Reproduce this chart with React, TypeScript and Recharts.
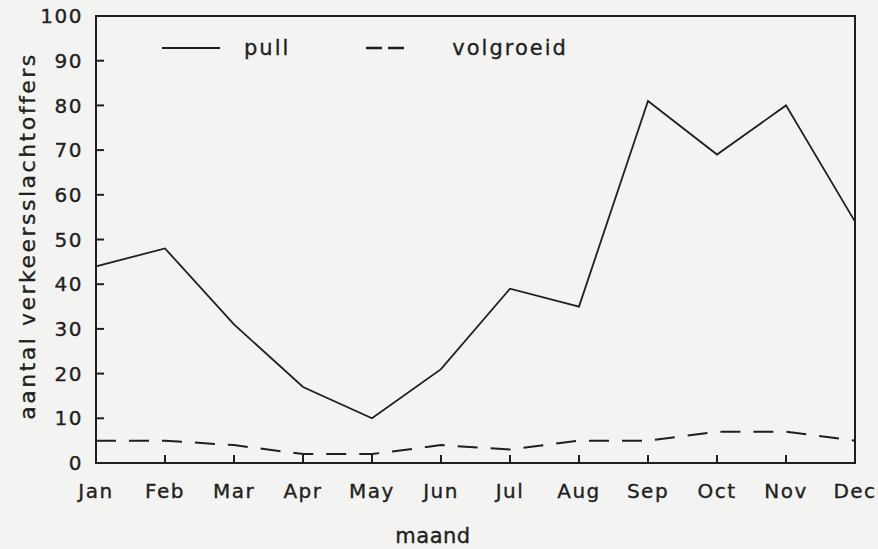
import React from "react";
import {
  LineChart,
  Line,
  XAxis,
  YAxis,
  ReferenceArea,
  Legend,
  Label,
} from "recharts";

const months = ["Jan", "Feb", "Mar", "Apr", "May", "Jun", "Jul", "Aug", "Sep", "Oct", "Nov", "Dec"];
const pull = [44, 48, 31, 17, 10, 21, 39, 35, 81, 69, 80, 54];
const volgroeid = [5, 5, 4, 2, 2, 4, 3, 5, 5, 7, 7, 5];
const yTicks = [0, 10, 20, 30, 40, 50, 60, 70, 80, 90, 100];

const data = months.map((m, i) => ({ month: m, pull: pull[i], volgroeid: volgroeid[i] }));

const INK = "#1f1f1f";
const FONT = "'DejaVu Sans', sans-serif";

const tickStyle = { fill: INK, stroke: INK, strokeWidth: 0.35, fontSize: 20, fontFamily: FONT, letterSpacing: 1.5 };

const LegendBox = () => (
  <div
    style={{
      display: "flex",
      alignItems: "center",
      fontFamily: FONT,
      fontSize: 21,
      letterSpacing: 2,
      color: INK,
      WebkitTextStroke: "0.35px " + INK,
    }}
  >
    <svg width={58} height={6}>
      <line x1={0} y1={3} x2={58} y2={3} stroke={INK} strokeWidth={2} />
    </svg>
    <span style={{ marginLeft: 24 }}>pull</span>
    <svg width={38} height={6} style={{ marginLeft: 76 }}>
      <line x1={0} y1={3} x2={38} y2={3} stroke={INK} strokeWidth={2.5} strokeDasharray="16 6" />
    </svg>
    <span style={{ marginLeft: 48 }}>volgroeid</span>
  </div>
);

export default function App() {
  return (
    <div style={{ position: "absolute", top: 0, left: 0, width: 878, height: 549, background: "#f3f3f1" }}>
      <LineChart width={878} height={549} data={data} margin={{ top: 16, right: 23, left: 0, bottom: 0 }}>
        <XAxis
          dataKey="month"
          interval={0}
          height={86}
          tickSize={-8}
          tickMargin={29}
          tick={tickStyle}
          stroke={INK}
          strokeWidth={2}
        >
          <Label
            content={() => (
              <text
                x={433}
                y={543}
                textAnchor="middle"
                fill={INK}
                stroke={INK}
                strokeWidth={0.35}
                fontSize={21}
                fontFamily={FONT}
                letterSpacing={0.5}
              >
                maand
              </text>
            )}
          />
        </XAxis>
        <YAxis
          domain={[0, 100]}
          ticks={yTicks}
          width={96}
          tickSize={-8}
          tickMargin={21}
          tick={tickStyle}
          stroke={INK}
          strokeWidth={2}
        >
          <Label
            content={() => (
              <text
                x={0}
                y={0}
                transform="translate(35,236) rotate(-90)"
                textAnchor="middle"
                fill={INK}
                stroke={INK}
                strokeWidth={0.35}
                fontSize={22}
                fontFamily={FONT}
                letterSpacing={2.5}
              >
                aantal verkeersslachtoffers
              </text>
            )}
          />
        </YAxis>
        <ReferenceArea x1="Jan" x2="Dec" y1={0} y2={100} fill="none" stroke={INK} strokeWidth={2} />
        <Legend
          layout="horizontal"
          verticalAlign="middle"
          align="center"
          wrapperStyle={{ top: 36, left: 162, width: "auto" }}
          content={() => <LegendBox />}
        />
        <Line
          type="linear"
          dataKey="pull"
          stroke={INK}
          strokeWidth={1.8}
          dot={false}
          isAnimationActive={false}
        />
        <Line
          type="linear"
          dataKey="volgroeid"
          stroke={INK}
          strokeWidth={2}
          strokeDasharray="20 13"
          dot={false}
          isAnimationActive={false}
        />
      </LineChart>
    </div>
  );
}
